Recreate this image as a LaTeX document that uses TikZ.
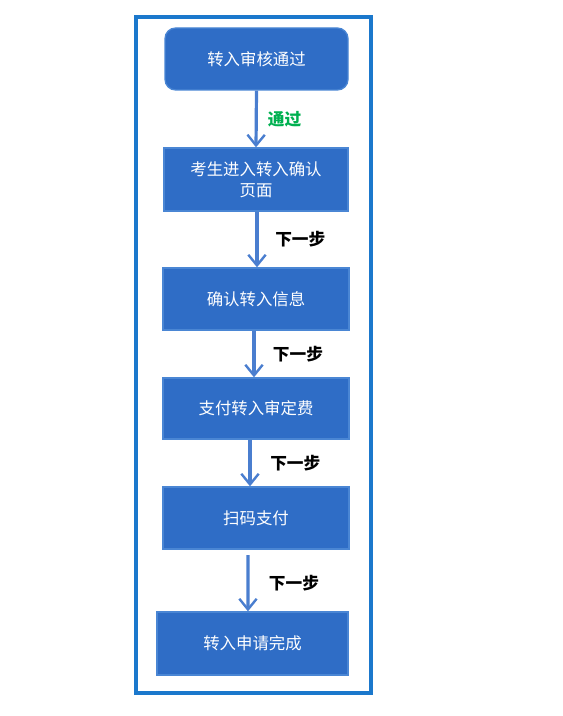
\documentclass[tikz,border=0pt]{standalone}
\usepackage{xcolor}
\usepackage{fontspec}
\usetikzlibrary{arrows.meta}
\newfontfamily\cjk{Noto Sans CJK SC}

\definecolor{boxblue}{HTML}{2F6DC6}
\definecolor{boxedge}{HTML}{4A86D4}
\definecolor{framblue}{HTML}{1B78CC}
\definecolor{arrblue}{HTML}{4A7ECF}
\definecolor{passgreen}{HTML}{00B050}

\begin{document}
\begin{tikzpicture}[x=0.75pt,y=-0.75pt,
	stepbox/.style={draw=boxedge, line width=1pt, fill=boxblue, text=white,
		font=\cjk\fontsize{12.3}{16}\selectfont, align=center, inner sep=0pt},
	arr/.style={draw=arrblue, line width=2.4pt,
		-{Straight Barb[length=8pt,width=13pt,line width=1.8pt]}},
	lbl/.style={font=\cjk\bfseries\fontsize{12.5}{14}\selectfont, inner sep=0pt}
	]
	% We will draw the flow chart here
	\useasboundingbox (0,0) rectangle (562,716);
	\draw[framblue, line width=2.4pt] (136,17) rectangle (371,693);
	
	\node[stepbox, rounded corners=8pt, minimum width=183*0.75pt, minimum height=62*0.75pt] (pass) at (256.5,59) {转入审核通过};
	\node[stepbox, minimum width=184*0.75pt, minimum height=63*0.75pt] (enter) at (256,179.5) {考生进入转入确认\\页面};
	\node[stepbox, minimum width=186*0.75pt, minimum height=62*0.75pt] (confirm) at (256,299) {确认转入信息};
	\node[stepbox, minimum width=186*0.75pt, minimum height=61*0.75pt] (fee) at (256,408.5) {支付转入审定费};
	\node[stepbox, minimum width=186*0.75pt, minimum height=62*0.75pt] (scan) at (256,518) {扫码支付};
	\node[stepbox, minimum width=191*0.75pt, minimum height=63*0.75pt] (done) at (252.5,643.5) {转入申请完成};
	
	\draw[arr] (pass.south) -- (enter.north) node[midway, right=7.5pt, lbl, text=passgreen] (l1) {通过};
	\draw[arr] ([xshift=0.75pt]enter.south) -- ([xshift=0.75pt]confirm.north) node[midway, right=12.5pt, lbl] (l2) {下一步};
	\draw[arr] ([xshift=-1.5pt]confirm.south) -- ([xshift=-1.5pt]fee.north) node[midway, right=13pt, lbl] (l3) {下一步};
	\draw[arr] ([xshift=-4.5pt]fee.south) -- ([xshift=-4.5pt]scan.north) node[midway, right=14pt, lbl] (l4) {下一步};
	\draw[arr] ([xshift=-6pt,yshift=-4pt]scan.south) -- ([xshift=-3.4pt]done.north) node[midway, right=14.5pt, lbl] (l5) {下一步};
	
\end{tikzpicture}
\end{document}
